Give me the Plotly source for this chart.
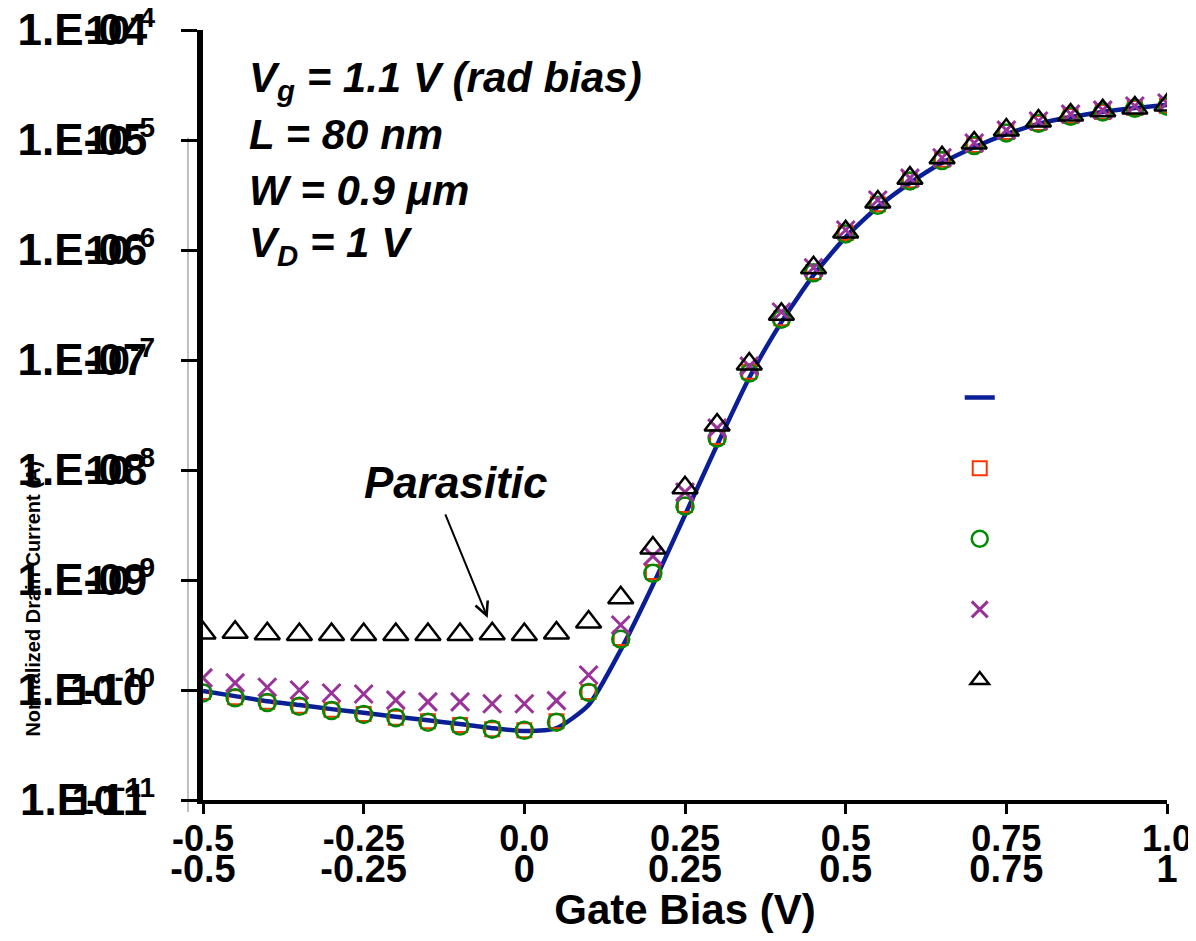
import plotly.graph_objects as go

# ---------------- data ----------------
gate_bias = [-0.5, -0.45, -0.4, -0.35, -0.3, -0.25, -0.2, -0.15, -0.1, -0.05, 0.0,
             0.05, 0.1, 0.15, 0.2, 0.25, 0.3, 0.35, 0.4, 0.45, 0.5,
             0.55, 0.6, 0.65, 0.7, 0.75, 0.8, 0.85, 0.9, 0.95, 1.0]

blue_line = [9.8e-11, 8.8e-11, 7.9e-11, 7.3e-11, 6.7e-11, 6.2e-11, 5.7e-11, 5.3e-11, 4.9e-11, 4.5e-11, 4.24e-11,
             4.5e-11, 7.3e-11, 2.31e-10, 9.0e-10, 3.9e-9, 1.69e-8, 6.9e-8, 2.21e-7, 5.9e-7, 1.31e-6,
             2.46e-6, 4.06e-6, 6.2e-6, 8.6e-6, 1.13e-5, 1.4e-5, 1.62e-5, 1.8e-5, 1.95e-5, 2.08e-5]

red_squares = [9.6e-11, 8.6e-11, 7.8e-11, 7.2e-11, 6.6e-11, 6.05e-11, 5.6e-11, 5.2e-11, 4.8e-11, 4.4e-11, 4.3e-11,
               5.2e-11, 9.6e-11, 2.97e-10, 1.18e-9, 4.8e-9, 2.0e-8, 7.8e-8, 2.4e-7, 6.3e-7, 1.43e-6,
               2.6e-6, 4.3e-6, 6.6e-6, 9.0e-6, 1.18e-5, 1.43e-5, 1.65e-5, 1.8e-5, 1.95e-5, 2.04e-5]

green_circles = [9.4e-11, 8.5e-11, 7.7e-11, 7.1e-11, 6.5e-11, 6.0e-11, 5.6e-11, 5.1e-11, 4.7e-11, 4.4e-11, 4.3e-11,
                 5.1e-11, 9.5e-11, 2.9e-10, 1.15e-9, 4.7e-9, 1.95e-8, 7.6e-8, 2.35e-7, 6.2e-7, 1.4e-6,
                 2.55e-6, 4.25e-6, 6.5e-6, 8.9e-6, 1.16e-5, 1.42e-5, 1.64e-5, 1.8e-5, 1.94e-5, 2.03e-5]

purple_x = [1.29e-10, 1.16e-10, 1.06e-10, 1.0e-10, 9.4e-11, 9.2e-11, 8.1e-11, 7.8e-11, 7.8e-11, 7.5e-11, 7.5e-11,
            8.0e-11, 1.37e-10, 3.9e-10, 1.65e-9, 6.3e-9, 2.4e-8, 8.8e-8, 2.73e-7, 6.9e-7, 1.52e-6,
            2.85e-6, 4.5e-6, 6.9e-6, 9.4e-6, 1.23e-5, 1.49e-5, 1.72e-5, 1.87e-5, 2.04e-5, 2.17e-5]

black_triangles = [3.3e-10, 3.35e-10, 3.25e-10, 3.2e-10, 3.2e-10, 3.2e-10, 3.2e-10, 3.2e-10, 3.2e-10, 3.25e-10, 3.2e-10,
                   3.3e-10, 4.15e-10, 6.9e-10, 1.95e-9, 6.9e-9, 2.56e-8, 9.2e-8, 2.6e-7, 6.9e-7, 1.46e-6,
                   2.73e-6, 4.5e-6, 6.9e-6, 9.4e-6, 1.23e-5, 1.49e-5, 1.69e-5, 1.84e-5, 1.95e-5, 2.08e-5]

x_tick_vals = [-0.5, -0.25, 0.0, 0.25, 0.5, 0.75, 1.0]
x_labels_lower = ["-0.5", "-0.25", "0", "0.25", "0.5", "0.75", "1"]
x_labels_upper = ["-0.5", "-0.25", "0.0", "0.25", "0.5", "0.75", "1.0"]

y_tick_vals = [1e-11, 1e-10, 1e-9, 1e-8, 1e-7, 1e-6, 1e-5, 1e-4]
y_labels_main = ["1.E-11", "1.E-10", "1.E-09", "1.E-08", "1.E-07", "1.E-06", "1.E-05", "1.E-04"]
y_labels_pow = ["10<sup>-11</sup>", "10<sup>-10</sup>", "10<sup>-9</sup>", "10<sup>-8</sup>",
                "10<sup>-7</sup>", "10<sup>-6</sup>", "10<sup>-5</sup>", "10<sup>-4</sup>"]

FONT = "Liberation Sans, Arial, sans-serif"
BLUE = "#0A1E96"
RED = "#FF3300"
GREEN = "#008A00"
PURPLE = "#993399"

fig = go.Figure()

fig.add_trace(go.Scatter(x=gate_bias, y=blue_line, mode="lines", name=" ",
                         line=dict(color=BLUE, width=4.5, shape="spline", smoothing=0.6)))
fig.add_trace(go.Scatter(x=gate_bias, y=red_squares, mode="markers", name=" ",
                         marker=dict(symbol="square-open", size=14, color=RED, line=dict(width=2, color=RED))))
fig.add_trace(go.Scatter(x=gate_bias, y=green_circles, mode="markers", name=" ",
                         marker=dict(symbol="circle-open", size=17, color=GREEN, line=dict(width=2.5, color=GREEN))))
fig.add_trace(go.Scatter(x=gate_bias, y=purple_x, mode="markers", name=" ",
                         marker=dict(symbol="x-thin-open", size=18, color=PURPLE, line=dict(width=3, color=PURPLE))))
fig.add_trace(go.Scatter(x=gate_bias, y=black_triangles, mode="markers", name=" ",
                         marker=dict(symbol="triangle-up-open", size=22, color="black", line=dict(width=2.5, color="black"))))

# overlay axes carrying the duplicated tick labels
fig.add_trace(go.Scatter(x=[None], y=[None], xaxis="x2", yaxis="y2", showlegend=False, hoverinfo="skip"))

fig.update_layout(
    width=1180, height=925, autosize=False,
    margin=dict(l=195, r=21, t=22, b=133),
    paper_bgcolor="white", plot_bgcolor="white",
    font=dict(family=FONT, color="black"),
    showlegend=True,
    legend=dict(x=0.785, y=0.575, xanchor="left", yanchor="top",
                font=dict(size=52, family=FONT), bgcolor="rgba(0,0,0,0)",
                itemwidth=30, tracegroupgap=0),
    xaxis=dict(range=[-0.5, 1.0], tickvals=x_tick_vals, ticktext=x_labels_lower,
               tickfont=dict(size=38, family=FONT, weight="bold"),
               ticks="outside", ticklen=10, tickwidth=3, tickcolor="black",
               showline=True, linewidth=4, linecolor="black", automargin=False,
               showgrid=False, zeroline=False, ticklabelstandoff=22, ticklabeloverflow="allow",
               title=dict(text="Gate Bias (V)", font=dict(size=42, family=FONT, weight="bold"), standoff=3)),
    xaxis2=dict(range=[-0.5, 1.0], overlaying="x", anchor="y", side="bottom",
                tickvals=x_tick_vals, ticktext=x_labels_upper, automargin=False,
                tickfont=dict(size=36, family=FONT, weight="bold"),
                ticks="", showline=False, showgrid=False, zeroline=False,
                ticklabelstandoff=14, ticklabeloverflow="allow"),
    yaxis=dict(type="log", range=[-11, -4], tickvals=y_tick_vals, ticktext=y_labels_main,
               tickfont=dict(size=44, family=FONT, weight="bold"),
               ticks="outside", ticklen=16, tickwidth=3, tickcolor="black",
               showline=True, linewidth=6, linecolor="black", automargin=False,
               showgrid=False, zeroline=False, ticklabelstandoff=25, ticklabeloverflow="allow"),
    yaxis2=dict(type="log", range=[-11, -4], overlaying="y", anchor="x", side="left",
                tickvals=y_tick_vals, ticktext=y_labels_pow, automargin=False,
                tickfont=dict(size=40, family=FONT, weight="bold"),
                ticks="", showline=False, showgrid=False, zeroline=False,
                ticklabelstandoff=47, ticklabeloverflow="allow"),
)

# secondary (grey) axis line
fig.add_shape(type="line", xref="paper", yref="paper", x0=-0.0156, x1=-0.0156, y0=-0.0156, y1=0.86,
              line=dict(color="#BFBFBF", width=2), layer="below")

txt_font = dict(size=42, family=FONT, weight="bold", style="italic", color="black")
lines = [("V<sub>g</sub> = 1.1 V (rad bias)", 0.935),
         ("L = 80 nm", 0.864),
         ("W = 0.9 \u03bcm", 0.792),
         ("V<sub>D</sub> = 1 V", 0.720)]
for t, yy in lines:
    fig.add_annotation(text=t, xref="paper", yref="paper", x=0.046, y=yy,
                       xanchor="left", yanchor="middle", showarrow=False, font=txt_font)

fig.add_annotation(text="Parasitic", xref="paper", yref="paper", x=0.165, y=0.412,
                   xanchor="left", yanchor="middle", showarrow=False, font=dict(txt_font, size=44))
fig.add_annotation(text="", x=-0.057, y=-9.345, xref="x", yref="y",
                   showarrow=True, arrowhead=5, arrowsize=1.3, arrowwidth=2, arrowcolor="black",
                   ax=-43, ay=-105)

fig.add_annotation(text="Normalized Drain Current (A)", xref="paper", yref="paper",
                   x=-0.176, y=0.262, xanchor="center", yanchor="middle", textangle=-90, showarrow=False,
                   font=dict(size=20, family=FONT, weight="bold", color="black"))

fig.write_html("out.html")
